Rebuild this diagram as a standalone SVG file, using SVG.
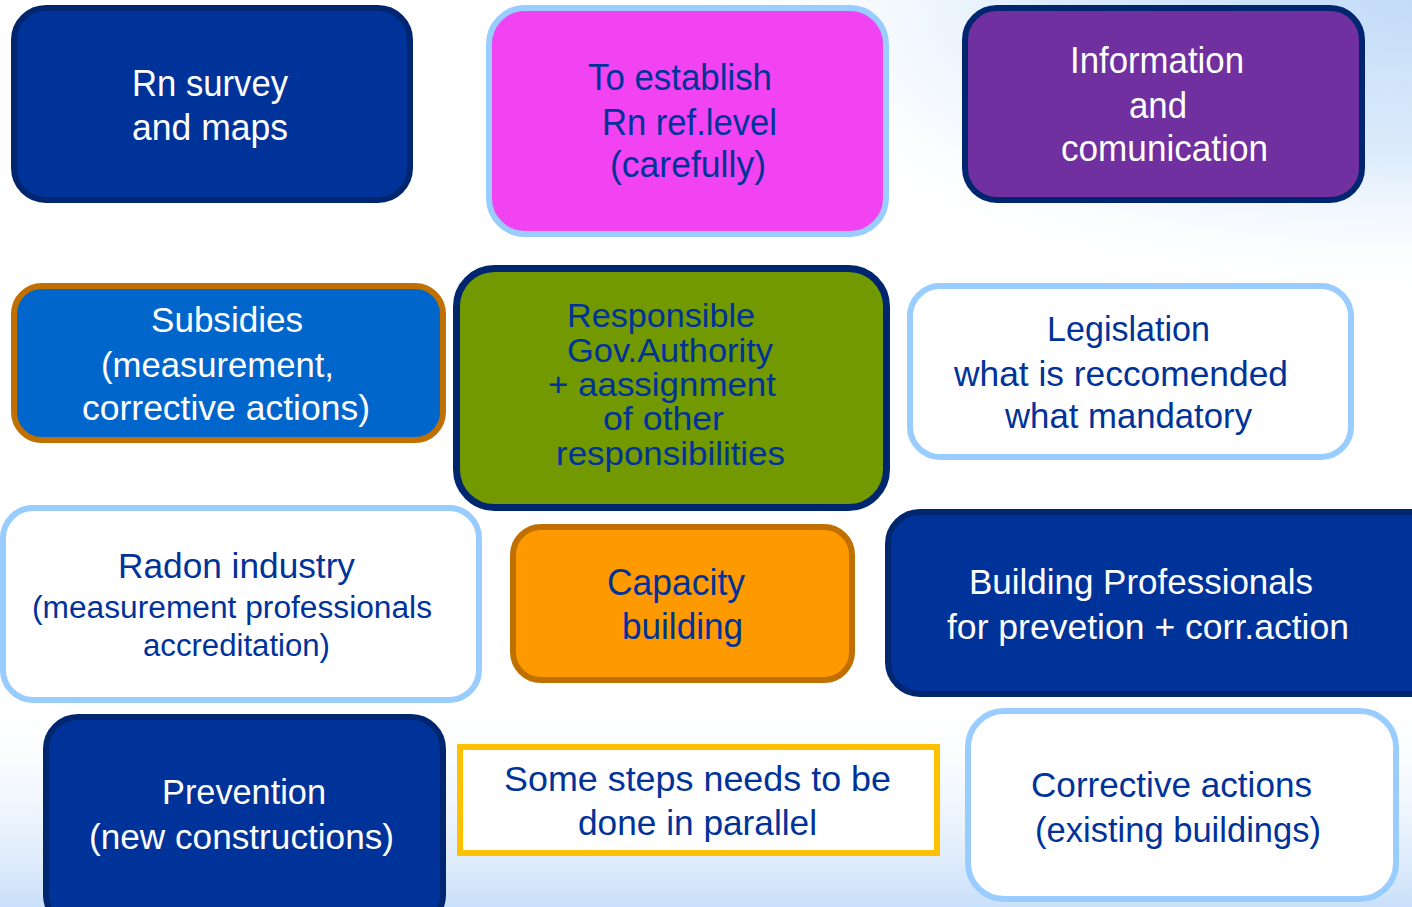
<svg xmlns="http://www.w3.org/2000/svg" width="1412" height="907" viewBox="0 0 1412 907">
<defs>
<radialGradient id="bgTR" cx="1412" cy="0" r="560" gradientUnits="userSpaceOnUse" gradientTransform="translate(1412 0) scale(1.3 0.55) translate(-1412 0)">
<stop offset="0" stop-color="#C4DCF8"/>
<stop offset="0.5" stop-color="#DCEBFB"/>
<stop offset="1" stop-color="#FFFFFF" stop-opacity="0"/>
</radialGradient>
<linearGradient id="bgB" x1="0" y1="690" x2="0" y2="907" gradientUnits="userSpaceOnUse">
<stop offset="0" stop-color="#FFFFFF" stop-opacity="0"/>
<stop offset="1" stop-color="#C9DFF9"/>
</linearGradient>
<style>
text{font-family:"Liberation Sans",Arial,sans-serif;font-size:35px}
.w{fill:#FFFFFF}
.b{fill:#003399}
.navy{fill:#003399;stroke:#00266F;stroke-width:6}
.lb{stroke:#99CCFF;stroke-width:6}
</style>
</defs>
<rect x="0" y="0" width="1412" height="907" fill="#FFFFFF"/>
<rect x="0" y="0" width="1412" height="907" fill="url(#bgTR)"/>
<rect x="0" y="690" width="1412" height="217" fill="url(#bgB)"/>
<g id="connectors"/>
<g id="n-survey">
<rect class="navy" x="14" y="8" width="396" height="192" rx="32"/>
<text class="w" x="132" y="96" textLength="156" lengthAdjust="spacingAndGlyphs" style="font-size:37px">Rn survey</text>
<text class="w" x="132" y="140" textLength="156" lengthAdjust="spacingAndGlyphs" style="font-size:37px">and maps</text>
</g>
<g id="n-reflevel">
<rect class="lb" fill="#F243F2" x="489" y="8" width="397" height="226" rx="36"/>
<text class="b" x="588" y="90" textLength="184" lengthAdjust="spacingAndGlyphs" style="font-size:37px">To establish</text>
<text class="b" x="602" y="135" textLength="175" lengthAdjust="spacingAndGlyphs" style="font-size:37px">Rn ref.level</text>
<text class="b" x="610" y="177" textLength="156" lengthAdjust="spacingAndGlyphs" style="font-size:37px">(carefully)</text>
</g>
<g id="n-info">
<rect fill="#7030A0" stroke="#00266F" stroke-width="6" x="965" y="8" width="397" height="192" rx="32"/>
<text class="w" x="1070" y="73" textLength="174" lengthAdjust="spacingAndGlyphs" style="font-size:36px">Information</text>
<text class="w" x="1129" y="118" textLength="58" lengthAdjust="spacingAndGlyphs" style="font-size:36px">and</text>
<text class="w" x="1061" y="161" textLength="207" lengthAdjust="spacingAndGlyphs" style="font-size:36px">comunication</text>
</g>
<g id="n-subsidies">
<rect fill="#0066CC" stroke="#BF7000" stroke-width="6" x="14" y="286" width="429" height="154" rx="28"/>
<text class="w" x="151" y="332" textLength="152" lengthAdjust="spacingAndGlyphs">Subsidies</text>
<text class="w" x="101" y="377" textLength="233" lengthAdjust="spacingAndGlyphs">(measurement,</text>
<text class="w" x="82" y="420" textLength="288" lengthAdjust="spacingAndGlyphs">corrective actions)</text>
</g>
<g id="n-authority">
<rect fill="#739900" stroke="#00266F" stroke-width="7" x="456.5" y="268.5" width="430" height="239" rx="38"/>
<text class="b" x="567" y="327" textLength="188" lengthAdjust="spacingAndGlyphs" style="font-size:33px">Responsible</text>
<text class="b" x="567" y="362" textLength="206" lengthAdjust="spacingAndGlyphs" style="font-size:33px">Gov.Authority</text>
<text class="b" x="548" y="396" textLength="228" lengthAdjust="spacingAndGlyphs" style="font-size:33px">+ aassignment</text>
<text class="b" x="603" y="430" textLength="121" lengthAdjust="spacingAndGlyphs" style="font-size:33px">of other</text>
<text class="b" x="556" y="465" textLength="229" lengthAdjust="spacingAndGlyphs" style="font-size:33px">responsibilities</text>
</g>
<g id="n-legislation">
<rect class="lb" fill="#FFFFFF" x="910" y="286" width="441" height="171" rx="30"/>
<text class="b" x="1047" y="341" textLength="163" lengthAdjust="spacingAndGlyphs">Legislation</text>
<text class="b" x="954" y="386" textLength="334" lengthAdjust="spacingAndGlyphs">what is reccomended</text>
<text class="b" x="1005" y="428" textLength="247" lengthAdjust="spacingAndGlyphs">what mandatory</text>
</g>
<g id="n-radon">
<rect class="lb" fill="#FFFFFF" x="3" y="508" width="476" height="192" rx="30"/>
<text class="b" x="118" y="578" textLength="237" lengthAdjust="spacingAndGlyphs">Radon industry</text>
<text class="b" x="32" y="618" textLength="400" lengthAdjust="spacingAndGlyphs" style="font-size:31px">(measurement professionals</text>
<text class="b" x="143" y="656" textLength="187" lengthAdjust="spacingAndGlyphs" style="font-size:31px">accreditation)</text>
</g>
<g id="n-prevention">
<rect class="navy" x="46" y="717" width="397" height="210" rx="32"/>
<text class="w" x="162" y="804" textLength="164" lengthAdjust="spacingAndGlyphs">Prevention</text>
<text class="w" x="89" y="849" textLength="305" lengthAdjust="spacingAndGlyphs">(new constructions)</text>
</g>
<g id="n-capacity">
<rect fill="#FF9900" stroke="#BF7000" stroke-width="6" x="513" y="527" width="339" height="153" rx="28"/>
<text class="b" x="607" y="595" textLength="138" lengthAdjust="spacingAndGlyphs" style="font-size:36px">Capacity</text>
<text class="b" x="622" y="639" textLength="121" lengthAdjust="spacingAndGlyphs" style="font-size:36px">building</text>
</g>
<g id="n-parallel">
<rect fill="#FFFFFF" stroke="#FFC000" stroke-width="6" x="460" y="747" width="477" height="106"/>
<text class="b" x="504" y="791" textLength="387" lengthAdjust="spacingAndGlyphs">Some steps needs to be</text>
<text class="b" x="578" y="835" textLength="239" lengthAdjust="spacingAndGlyphs">done in parallel</text>
</g>
<g id="n-buildprof">
<rect class="navy" x="888" y="512" width="560" height="182" rx="32"/>
<text class="w" x="969" y="594" textLength="344" lengthAdjust="spacingAndGlyphs">Building Professionals</text>
<text class="w" x="947" y="639" textLength="402" lengthAdjust="spacingAndGlyphs">for prevetion + corr.action</text>
</g>
<g id="n-corrective">
<rect class="lb" fill="#FFFFFF" x="968" y="711" width="428" height="188" rx="36"/>
<text class="b" x="1031" y="797" textLength="281" lengthAdjust="spacingAndGlyphs">Corrective actions</text>
<text class="b" x="1035" y="842" textLength="286" lengthAdjust="spacingAndGlyphs">(existing buildings)</text>
</g>
</svg>
